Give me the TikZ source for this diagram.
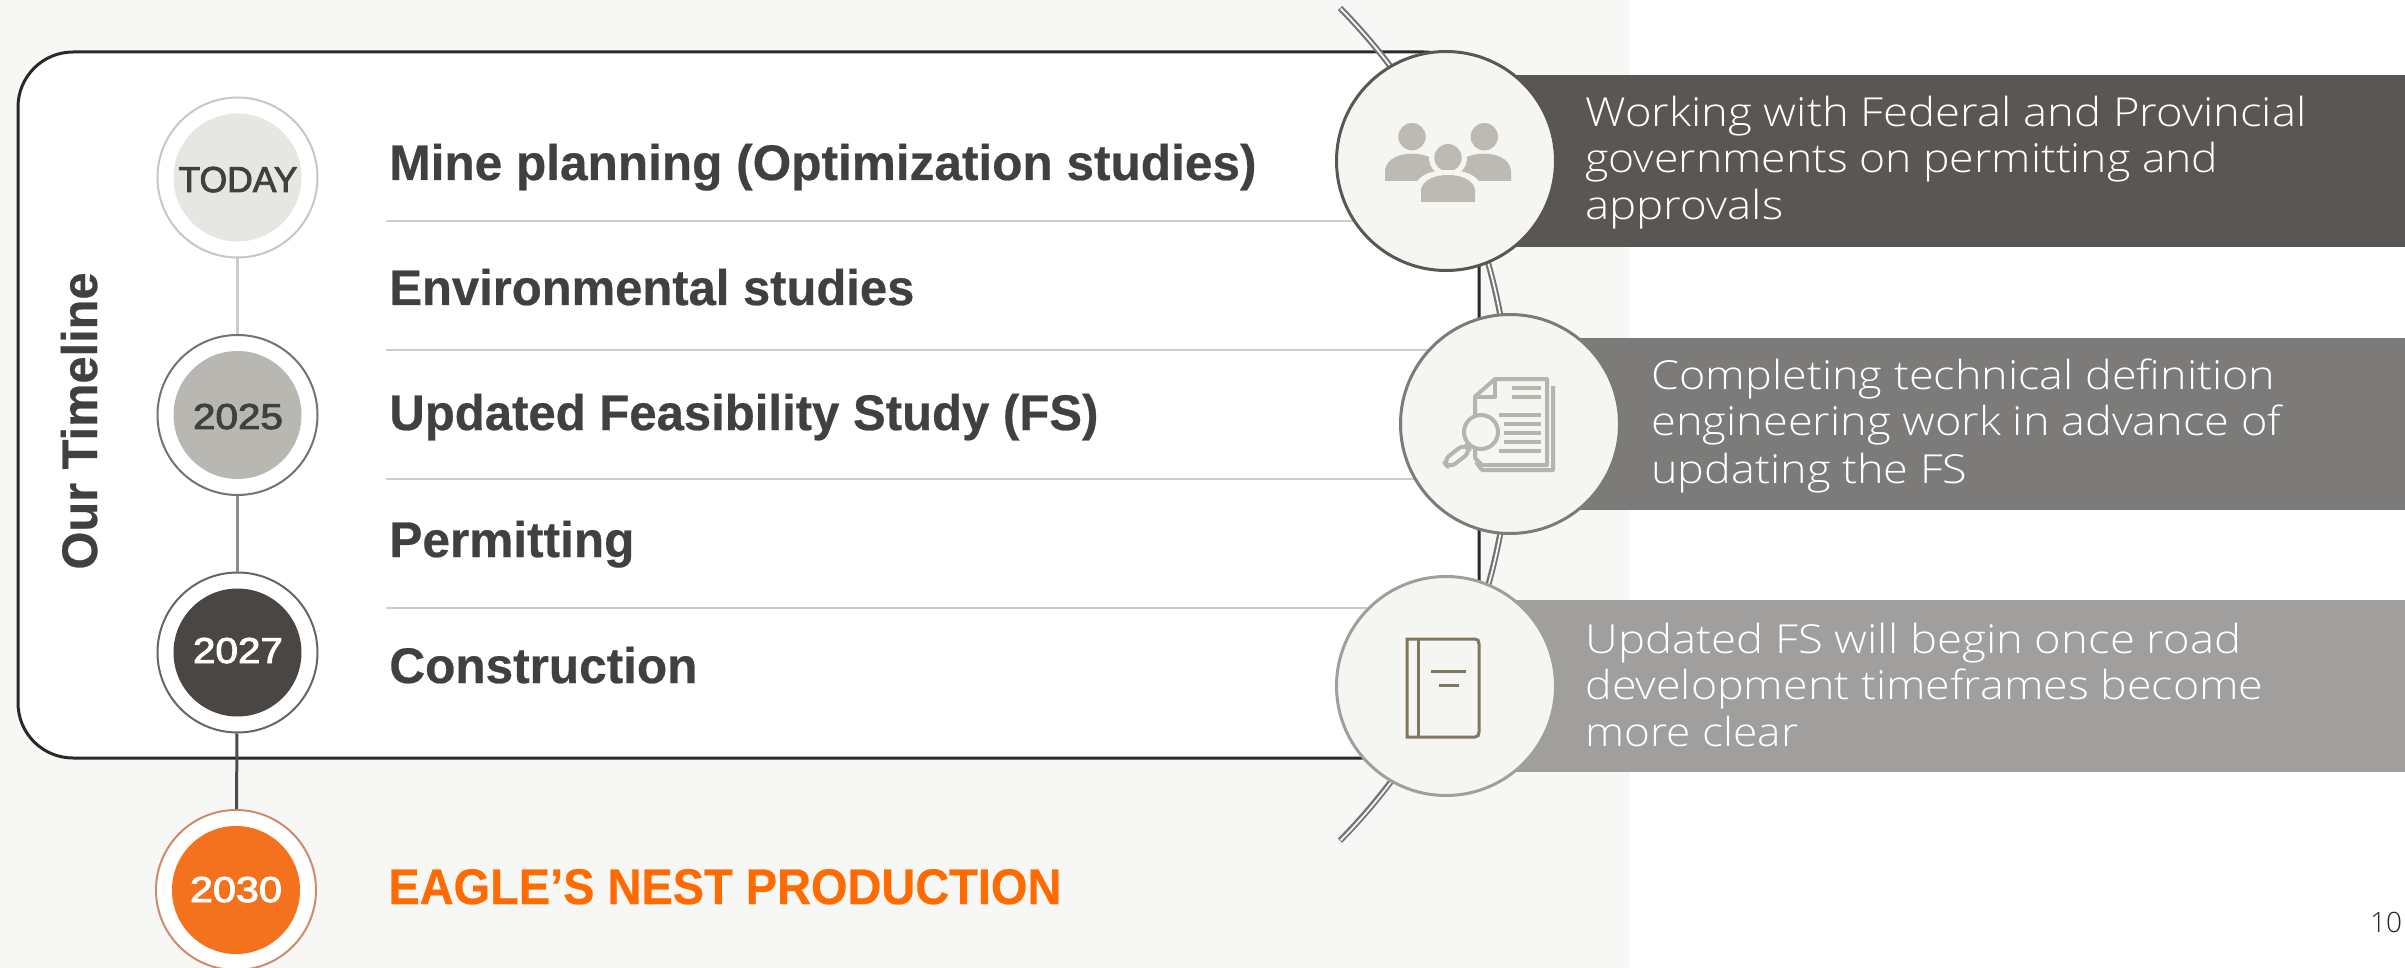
\documentclass[tikz,border=0pt]{standalone}
\usepackage{fontspec}
\usepackage{graphicx}
\setmainfont{Liberation Sans}[BoldFeatures={FakeBold=0.5}]
\newfontfamily\yearf{Liberation Sans}[FakeBold=2.5]
\newfontfamily\lightf{Open Sans Light}
\definecolor{pagebg}{HTML}{F7F7F5}
\definecolor{ink}{HTML}{404040}
\definecolor{boxline}{HTML}{2B2826}
\definecolor{divider}{HTML}{CFCBC6}
\definecolor{orangeT}{HTML}{FF6B00}
\definecolor{bandA}{HTML}{5A5654}
\definecolor{bandB}{HTML}{7C7B79}
\definecolor{bandC}{HTML}{A09F9E}
\definecolor{disc}{HTML}{F5F6F2}
\definecolor{peopleC}{HTML}{BDB9B3}
\definecolor{docC}{HTML}{B4B6AE}
\definecolor{bookC}{HTML}{7F7760}
\definecolor{coreA}{HTML}{E6E6E3}
\definecolor{coreB}{HTML}{B9B7B2}
\definecolor{coreC}{HTML}{4A4644}
\definecolor{coreD}{HTML}{F4721E}
\definecolor{ringD}{HTML}{CE8A6A}
\newsavebox{\fitbox}
\newcommand{\fitw}[2]{\sbox{\fitbox}{#2}\pgfmathsetmacro{\fitr}{(#1*0.5)/(\wd\fitbox)}\scalebox{\fitr}[1]{\usebox{\fitbox}}}
\tikzset{
  px/.style={line width=#1*0.5pt},
  head/.style={anchor=base west,inner sep=0pt,text=ink,font=\fontsize{25}{25}\selectfont\bfseries},
  headO/.style={head,text=orangeT},
  bodyT/.style={anchor=base west,inner sep=0pt,text=white,font=\fontsize{20}{20}\selectfont\lightf},
  ring/.style={circle,inner sep=0pt,minimum size=80pt,fill=#1,px=2},
  core/.style={circle,inner sep=0pt,minimum size=64pt,fill=#1},
  yearT/.style={anchor=base,inner sep=0pt,text=#1,font=\fontsize{18}{18}\selectfont\yearf},
  bigdisc/.style={circle,inner sep=0pt,minimum size=109.5pt,fill=disc,draw=#1,px=3},
}
\begin{document}
\begin{tikzpicture}[x=0.5pt,y=-0.5pt]
\useasboundingbox (0,0) rectangle (2405,968);
\fill[pagebg] (0,0) rectangle (1630,968);
\draw[fill=white,draw=boxline,px=3,rounded corners=27.5pt] (18,52) rectangle (1479,758);
% dividers
\foreach \yy in {221,350,479,608}{\draw[divider,px=2.5] (386,\yy) -- (1479,\yy);}
% bands
\fill[bandA] (1446,75) rectangle (2405,247);
\fill[bandB] (1510,338) rectangle (2405,510);
\fill[bandC] (1446,600) rectangle (2405,772);
% arc
\coordinate (arcA) at (1340,8);
\draw[color=black!55,px=6] (arcA) arc[start angle=-44.5,end angle=44.5,radius=594];
\draw[color=pagebg,px=1.8] ([shift={(0.7,0.7)}]arcA) arc[start angle=-44.43,end angle=44.43,radius=594];
% timeline
\node[ring=white,draw=black!22] (r0) at (237.5,177.5) {};
\node[ring=white,draw=black!55] (r1) at (237.5,415) {};
\node[ring=white,draw=black!60] (r2) at (237.5,652.5) {};
\node[ring=white,draw=ringD] (r3) at (236,890) {};
\draw[black!20,px=2.5] (r0) -- (r1);
\draw[black!45,px=2.5] (r1) -- (r2);
\draw[black!70,px=3] (r2) -- (r3);
\node[core=coreA] (c0) at (r0) {};
\node[core=coreB] (c1) at (r1) {};
\node[core=coreC] (c2) at (r2) {};
\node[core=coreD] (c3) at (r3) {};
\node[yearT=ink] (y0) at (238,192) {\fitw{119}{TODAY}};
\node[yearT=ink] (y1) at (238,429) {\fitw{90}{2025}};
\node[yearT=white] (y2) at (238,663) {\fitw{90}{2027}};
\node[yearT=white] (y3) at (236,902) {\fitw{92}{2030}};
% left title
\node[head,anchor=base,rotate=90] (tl) at (97,421) {\fitw{297}{Our Timeline}};
% items
\node[head] (t1) at (389,180) {\fitw{867}{Mine planning (Optimization studies)}};
\node[head] (t2) at (389,305) {\fitw{525}{Environmental studies}};
\node[head] (t3) at (389,430) {\fitw{709}{Updated Feasibility Study (FS)}};
\node[head] (t4) at (389,557) {\fitw{245}{Permitting}};
\node[head] (t5) at (389,683) {\fitw{308}{Construction}};
\node[headO] (t6) at (388,904) {\fitw{673}{EAGLE’S NEST PRODUCTION}};
% band texts
\node[bodyT] (a1) at (1585,127) {\fitw{721}{Working with Federal and Provincial}};
\node[bodyT] (a2) at (1585,173) {\fitw{633}{governments on permitting and}};
\node[bodyT] (a3) at (1585,220) {\fitw{198}{approvals}};
\node[bodyT] (b1) at (1651,389) {\fitw{624}{Completing technical definition}};
\node[bodyT] (b2) at (1651,436) {\fitw{630}{engineering work in advance of}};
\node[bodyT] (b3) at (1651,483) {\fitw{316}{updating the FS}};
\node[bodyT] (d1) at (1585,653) {\fitw{656}{Updated FS will begin once road}};
\node[bodyT] (d2) at (1585,699) {\fitw{678}{development timeframes become}};
\node[bodyT] (d3) at (1585,746) {\fitw{213}{more clear}};
\node[anchor=base,inner sep=0pt,text=black!85,font=\fontsize{14}{14}\selectfont\lightf] (pg) at (2386,932) {10};
% discs
\node[bigdisc=bandA] (dA) at (1446,161) {};
\node[bigdisc=bandB] (dB) at (1510,424) {};
\node[bigdisc=bandC] (dC) at (1446,686) {};
% people icon
\fill[peopleC] (1412,136.7) circle[radius=13.7];
\fill[peopleC] (1484.3,136.7) circle[radius=13.7];
\fill[peopleC] (1385,181) -- (1385,170) .. controls (1387,158) and (1400,153.7) .. (1412,153.7) .. controls (1424,153.7) and (1439,158) .. (1441,170) -- (1441,181) -- cycle;
\fill[peopleC] (1511,181) -- (1511,170) .. controls (1509,158) and (1496,153.7) .. (1484,153.7) .. controls (1472,153.7) and (1457,158) .. (1455,170) -- (1455,181) -- cycle;
\fill[disc] (1448,157.7) circle[radius=19];
\fill[peopleC] (1448,157.7) circle[radius=13.7];
\fill[disc] (1414,205) -- (1414,187) .. controls (1418,174) and (1434,170) .. (1448,170) .. controls (1462,170) and (1478,174) .. (1482,187) -- (1482,205) -- cycle;
\fill[peopleC] (1421,202) -- (1421,189) .. controls (1424,179) and (1436,175) .. (1448,175) .. controls (1460,175) and (1472,179) .. (1475,189) -- (1475,202) -- cycle;
% document icon
\begin{scope}[draw=docC,px=4,line join=round]
\draw (1553,386) -- (1553,470) -- (1482,470) -- (1476,462);
\draw (1475,420) -- (1475,396.5) -- (1495,379) -- (1547,379) -- (1547,465) -- (1482,465) -- (1475,458) -- (1475,440);
\draw (1495,379) -- (1495,397) -- (1475,397);
\foreach \yy in {388,397}{\draw (1512,\yy) -- (1541,\yy);}
\draw (1499,415) -- (1541,415);
\foreach \yy in {424,433,442}{\draw (1504,\yy) -- (1541,\yy);}
\draw (1499,451) -- (1541,451);
\draw[fill=disc] (1481,432) circle[radius=17];
\draw[rotate around={38:(1457,456)},rounded corners=4pt,fill=disc] (1443,451) rectangle (1471,461);
\end{scope}
% book icon
\begin{scope}[draw=bookC,px=3]
\draw (1407,639) -- (1475,639) .. controls (1478,639) and (1479,641) .. (1479,644) -- (1479,732) .. controls (1479,735) and (1478,737) .. (1475,737) -- (1407,737) -- cycle;
\draw (1418,639) -- (1418,737);
\draw (1431,671) -- (1466,671);
\draw (1439,685) -- (1459,685);
\end{scope}
\end{tikzpicture}
\end{document}
